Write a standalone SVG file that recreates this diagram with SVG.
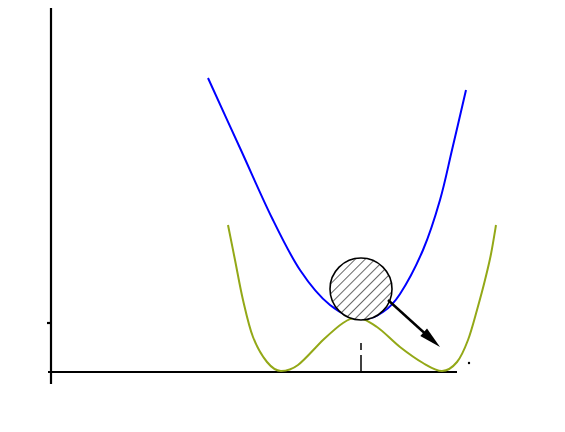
<svg xmlns="http://www.w3.org/2000/svg" width="565" height="432" viewBox="0 0 565 432">
<style>
.axis{stroke:#000;stroke-width:2.2;fill:none}
.blue{stroke:#0000ff;stroke-width:2;fill:none;stroke-linejoin:round}
.olive{stroke:#93a817;stroke-width:2;fill:none;stroke-linejoin:round}
</style>
<defs>
<pattern id="hatch" patternUnits="userSpaceOnUse" width="7" height="7" patternTransform="rotate(45)">
<rect width="7" height="7" fill="#fff"/>
<line x1="0" y1="0" x2="0" y2="7" stroke="#000" stroke-width="1.2"/>
</pattern>
</defs>
<rect width="565" height="432" fill="#fff"/>
<g id="axes">
<line class="axis" x1="51" y1="8" x2="51" y2="384"/>
<line class="axis" x1="48" y1="372" x2="457" y2="372"/>
<line class="axis" x1="47" y1="323" x2="51" y2="323" stroke-width="1.5"/>
<line x1="361" y1="343" x2="361" y2="350" stroke="#000" stroke-width="1.5"/>
<line x1="361" y1="355" x2="361" y2="372" stroke="#000" stroke-width="1.5"/>
<circle cx="469" cy="363" r="1.2" fill="#000"/>
</g>
<g id="curves">
<path class="blue" d="M208,78 C213.3,89.7 229.3,124.7 240,148 C250.7,171.3 262,197.7 272,218 C282,238.3 290.3,255.5 300,270 C309.7,284.5 319.7,296.8 330,305 C340.3,313.2 352,319 362,319 C372,319 376.7,316.2 383,312 C389.3,308 393.3,304.3 400,294 C406.7,283.7 416.3,265.7 423,250 C429.7,234.3 435.2,216.7 440,200 C444.8,183.3 447.7,168.3 452,150 C456.3,131.7 463.7,100 466,90"/>
<path class="olive" d="M228,225 C229.2,230.8 232.5,247.5 235,260 C237.5,272.5 240,287.2 243,300 C246,312.8 249,326.7 253,337 C257,347.3 262.3,356.3 267,362 C271.7,367.7 276,371 281,371 C286,371 291,370.2 298,365 C305,359.8 315.5,347.3 323,340 C330.8,332.8 337.3,326.7 343,323 C348.7,319.3 351,318 357,318 C364,318 369.8,322.2 377,327 C384.2,331.8 392.3,341 400,347 C407.7,353 416,359 423,363 C430,367 436,371 442,371 C448,371 452.7,367.2 457,362 C461.3,356.8 464.7,348.7 468,340 C471.3,331.3 474.2,320 477,310 C479.8,300 482.7,289.3 485,280 C487.3,270.7 489.2,263.2 491,254 C492.8,244.8 495.2,229.8 496,225"/>
</g>
<g id="ball">
<circle cx="361" cy="289" r="31" fill="url(#hatch)" stroke="#000" stroke-width="1.6"/>
</g>
<g id="arrow">
<line x1="388" y1="300" x2="425" y2="333.5" stroke="#000" stroke-width="2.4"/>
<polygon points="440,347 420.3,336 427,328.6" fill="#000"/>
</g>
</svg>
